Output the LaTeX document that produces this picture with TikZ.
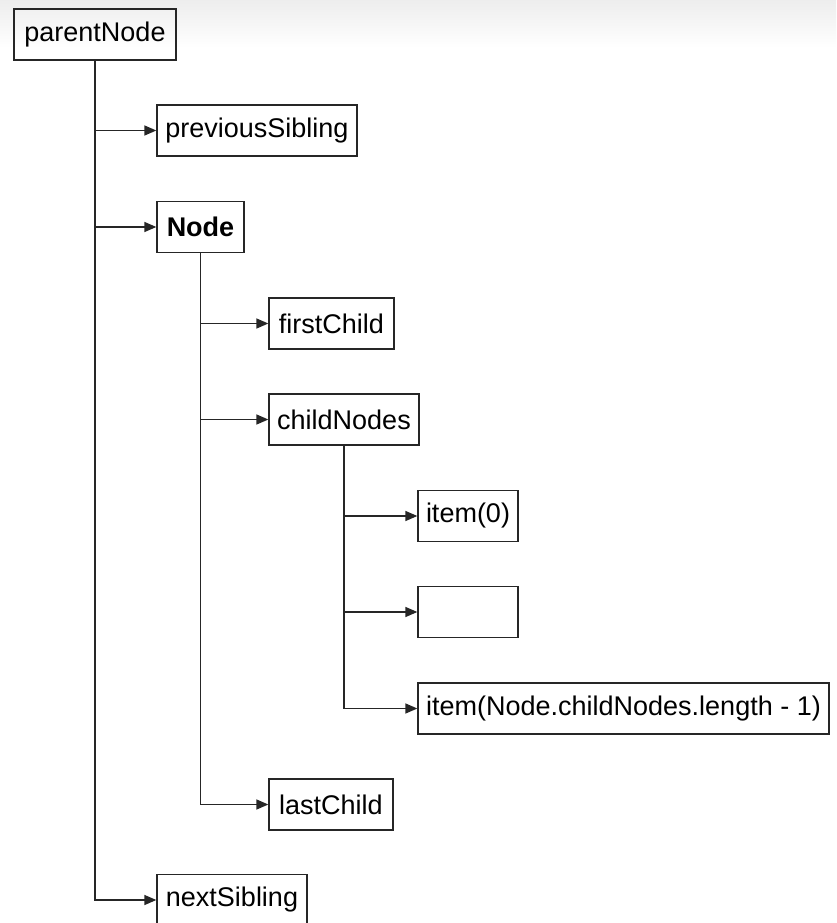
\documentclass[tikz,border=0pt]{standalone}
\usepackage{fontspec}
\setmainfont{Liberation Sans}
\usetikzlibrary{arrows.meta}

\tikzset{
  box/.style={draw=black!85, line width=1.3pt, minimum height=51pt, inner sep=0pt,
    font=\fontsize{27}{31}\selectfont},
  link/.style={line width=1.4pt, draw=black!85, -{Triangle[length=12pt,width=10pt]}}
}

\begin{document}
\begin{tikzpicture}[x=1pt,y=-1pt]
        \useasboundingbox (0,0) rectangle (836,923);
        \shade[top color=black!7, bottom color=white] (0,0) rectangle (836,48);

        \node[box, minimum width=162pt] at (95,34.5) (parent) {parentNode};
        \node[box, minimum width=200pt] at (257,130.5) (prev) {previousSibling};
        \node[box, minimum width=87pt] at (200.5,227) (node) {\textbf{Node}};
        \node[box, minimum width=125pt] at (331.5,323.5) (first) {firstChild};
        \node[box, minimum width=150pt] at (344,419.5) (childs) {childNodes};
        \node[box, minimum width=100pt] at (468,516) (item0) {item(0)};
        \node[box, minimum width=100pt] at (468,612) (itemdots) {};
        \node[box, minimum width=411pt] at (623.5,708.5) (itemlast) {item(Node.childNodes.length - 1)};
        \node[box, minimum width=124pt] at (331,804.5) (last) {lastChild};
        \node[box, minimum width=150pt] at (232,900) (next) {nextSibling};

        % siblings hang off parentNode
        \foreach \c in {prev,node,next}
          \draw[link] (parent.south) |- (\c.west);
        % children of Node
        \foreach \c in {first,childs,last}
          \draw[link] (node.south) |- (\c.west);
        % items of childNodes
        \foreach \c in {item0,itemdots,itemlast}
          \draw[link] (childs.south) |- (\c.west);
\end{tikzpicture}
\end{document}
